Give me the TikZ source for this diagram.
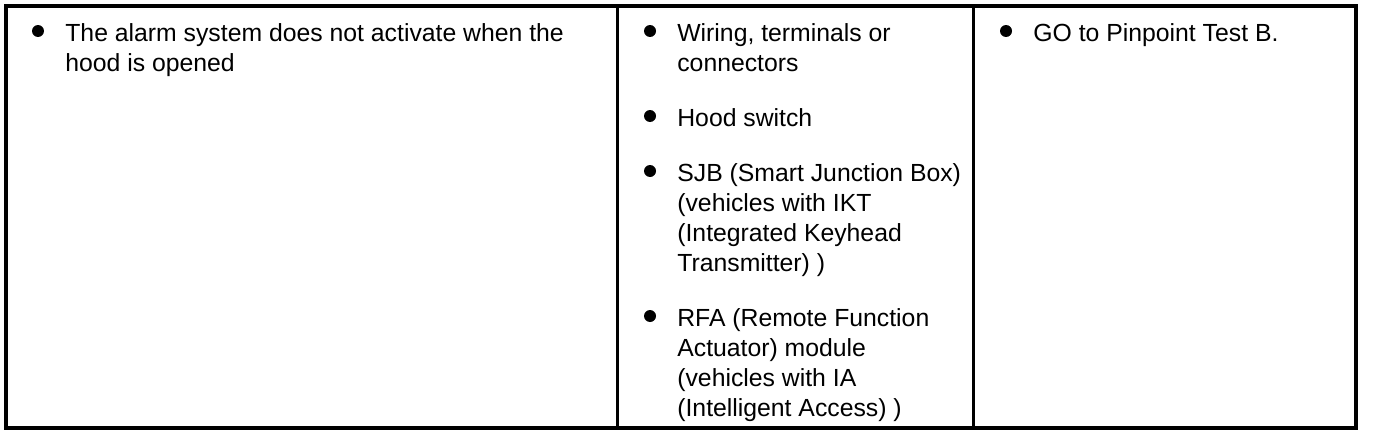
\documentclass[tikz,border=0pt]{standalone}
\usepackage{fontspec}
\setmainfont{Liberation Sans}
\usepackage{tikz}

\begin{document}
\begin{tikzpicture}[x=0.02cm, y=-0.02cm,
    dot/.style={fill=black, circle, inner sep=0pt, minimum size=0.24cm},
    entry/.style={anchor=base west, inner sep=0pt, align=left, font=\fontsize{14.1}{17}\selectfont}]

                \useasboundingbox (0,0) rectangle (1376,436);

                % Frame
                \draw[line width=2.3pt] (6,6) rectangle (1356,428);
                \draw[line width=1.7pt] (617.5,6) -- (617.5,428);
                \draw[line width=1.7pt] (973.5,6) -- (973.5,428);

                % Symptom (nodes sit on the baseline of their last line)
                \node[dot] (sb1) at (38,31) {};
                \node[entry] (s1) at (65,71) {The alarm system does not activate when the\\hood is opened};

                % Possible sources
                \node[dot] (cb1) at (650,31) {};
                \node[entry] (c1) at (677,71) {Wiring, terminals or\\connectors};
                \node[dot] (cb2) at (650,116) {};
                \node[entry] (c2) at (677,126) {Hood switch};
                \node[dot] (cb3) at (650,171) {};
                \node[entry] (c3) at (677,271) {SJB (Smart Junction Box)\\(vehicles with IKT\\(Integrated Keyhead\\Transmitter) )};
                \node[dot] (cb4) at (650,316) {};
                \node[entry] (c4) at (677,416) {RFA (Remote Function\\Actuator) module\\(vehicles with IA\\(Intelligent Access) )};

                % Action
                \node[dot] (ab1) at (1006,31) {};
                \node[entry] (a1) at (1033,41) {GO to Pinpoint Test B.};

\end{tikzpicture}
\end{document}
